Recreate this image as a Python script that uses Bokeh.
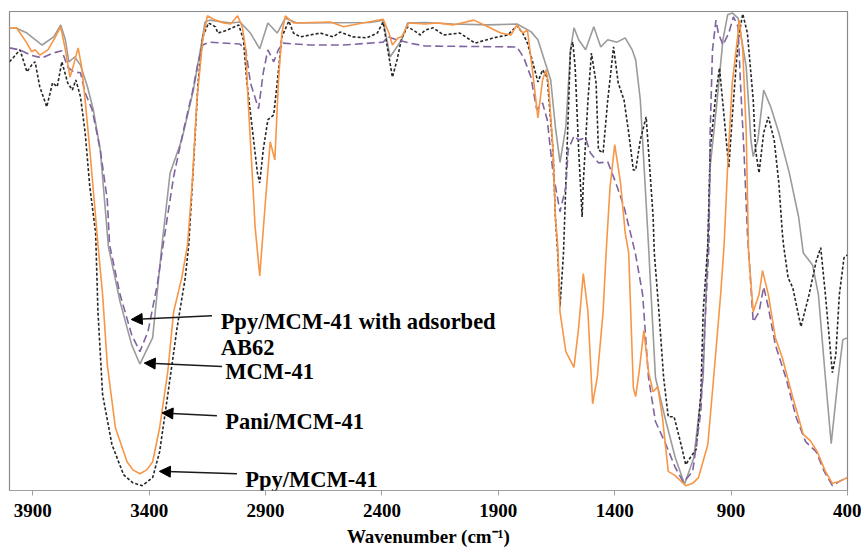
from bokeh.plotting import figure
from bokeh.models import Range1d, FixedTicker, Arrow, NormalHead, Label
from bokeh.embed import file_html
from bokeh.resources import INLINE

# ---------------- data (wavenumber cm-1, transmittance a.u.) ----------------
tick_values = [3900, 3400, 2900, 2400, 1900, 1400, 900, 400]

wn_mcm = [4000, 3970, 3925, 3860, 3810, 3780, 3760, 3745, 3720, 3695, 3665, 3640, 3610, 3575, 3525,
          3475, 3440, 3385, 3345, 3310, 3260, 3210, 3180, 3160, 3140, 3050, 3010, 2965, 2925, 2890,
          2850, 2815, 2765, 2450, 2395, 2365, 2315, 2290, 2215, 2095, 1945, 1820, 1760, 1730, 1705,
          1675, 1655, 1635, 1610, 1590, 1575, 1555, 1525, 1490, 1460, 1430, 1390, 1355, 1325, 1310,
          1290, 1255, 1225, 1180, 1140, 1100, 1060, 1020, 1000, 990, 960, 935, 915, 895, 870, 835,
          815, 805, 785, 760, 730, 695, 650, 610, 590, 550, 525, 495, 470, 440, 420, 400]
t_mcm = [96.5, 96.5, 95.5, 93.0, 94.7, 97.2, 94.1, 89.5, 90.5, 88.8, 84.3, 79.5, 71.1, 50.9, 39.4,
         30.4, 26.4, 31.9, 51.3, 66.3, 73.2, 83.6, 92.0, 97.8, 98.2, 97.6, 97.8, 95.5, 92.2, 97.6,
         95.5, 98.6, 97.6, 97.7, 98.2, 90.5, 94.1, 97.6, 97.7, 97.4, 97.2, 97.4, 95.8, 94.1, 90.3,
         85.7, 75.9, 68.5, 75.9, 92.0, 96.6, 94.1, 92.0, 96.8, 92.6, 94.1, 93.6, 94.5, 92.0, 89.9,
         81.5, 51.3, 23.6, 14.4, 6.9, 1.3, 6.9, 23.6, 51.3, 67.6, 81.5, 94.1, 99.3, 99.7, 98.6, 88.4,
         73.2, 69.7, 73.2, 83.6, 80.1, 74.7, 66.3, 57.1, 49.6, 47.1, 40.9, 23.6, 9.8, 23.6, 31.5, 31.9]

wn_pani = [4000, 3970, 3925, 3905, 3890, 3870, 3835, 3805, 3780, 3760,
           3740, 3725, 3705, 3690, 3675, 3655, 3630, 3620, 3600, 3580,
           3545, 3495, 3470, 3440, 3410, 3385, 3355, 3320, 3295, 3260, 3235, 3215,
           3195, 3170, 3150, 3115, 3080, 3050, 3020, 3000, 2985, 2975,
           2955, 2945, 2925, 2900, 2880, 2860, 2845, 2830, 2815, 2780,
           2620, 2565, 2505, 2395, 2370, 2355, 2330, 2315, 2285, 2215,
           2160, 2095, 2005, 1945, 1890, 1845, 1820, 1795, 1775, 1755,
           1730, 1710, 1695, 1685, 1665, 1655, 1645, 1635, 1610, 1575,
           1555, 1535, 1515, 1495, 1475, 1450, 1435, 1420, 1400, 1375,
           1355, 1340, 1320, 1310, 1295, 1275, 1255, 1235, 1215, 1195,
           1170, 1140, 1095, 1065, 1040, 1000, 975, 945, 930, 915, 895, 870,
           865, 850, 835, 825, 805, 780, 765, 740, 710, 680,
           635, 590, 560, 530, 495, 465, 435, 400]
t_pani = [96.5, 96.6, 93.4, 91.6, 92.0, 90.9, 92.0, 94.5, 96.8, 92.0,
          86.3, 88.8, 92.4, 88.4, 81.5, 71.1, 57.1, 51.3, 40.9, 26.3,
          13.1, 6.0, 4.3, 3.5, 4.3, 6.0, 13.1, 24.8, 37.3, 44.4, 51.3, 64.2,
          81.5, 94.1, 99.1, 98.2, 97.6, 97.4, 99.1, 96.8, 92.0, 81.5,
          64.2, 55.1, 44.8, 60.7, 72.8, 69.0, 85.1, 95.5, 99.1, 97.6,
          97.8, 96.8, 97.4, 98.4, 95.5, 93.0, 94.5, 94.7, 97.6, 97.4,
          97.6, 97.2, 98.2, 96.8, 95.5, 95.1, 97.2, 95.5, 96.1, 88.4,
          77.8, 85.7, 87.8, 85.1, 71.1, 57.1, 51.3, 37.3, 29.0, 25.7,
          34.0, 45.3, 37.3, 18.1, 23.6, 37.3, 51.3, 63.4, 72.2, 64.2,
          53.8, 49.6, 21.5, 19.6, 24.8, 33.4, 24.8, 20.6, 21.7, 15.2,
          4.0, 3.1, 1.0, 1.5, 2.7, 9.6, 23.6, 40.9, 51.3, 67.6, 85.1, 95.5,
          98.2, 92.0, 74.7, 49.6, 37.3, 40.9, 45.9, 40.9, 31.9, 27.7,
          19.4, 11.7, 10.4, 8.1, 4.0, 1.5, 1.9, 2.7]

wn_ab62 = [4000, 3955, 3910, 3860, 3815, 3775, 3750, 3725, 3695, 3675,
           3645, 3610, 3580, 3570, 3525, 3475, 3440, 3405, 3365, 3340,
           3295, 3255, 3215, 3190, 3170, 3140, 3010, 2985, 2965, 2930,
           2910, 2890, 2865, 2845, 2825, 2710, 2565, 2395, 2375, 2335,
           2280, 2215, 1820, 1790, 1760, 1735, 1710, 1690, 1665, 1635,
           1610, 1600, 1575, 1555, 1525, 1505, 1470, 1430, 1395, 1360,
           1325, 1310, 1280, 1255, 1225, 1180, 1140, 1105, 1065, 1030,
           1010, 995, 990, 980, 965, 955, 935, 910, 890, 870,
           860, 845, 830, 805, 780, 760, 740, 710, 665, 620,
           580, 535, 500, 465, 435, 400]
t_ab62 = [92.4, 92.0, 90.9, 90.3, 91.3, 91.8, 88.4, 87.4, 87.2, 83.0,
          79.5, 71.1, 60.7, 51.3, 40.9, 32.5, 29.0, 33.2, 43.0, 51.3,
          65.5, 74.7, 83.0, 89.3, 93.0, 93.6, 93.2, 92.0, 85.1, 79.7,
          87.2, 92.0, 89.5, 92.0, 93.4, 93.0, 93.0, 93.6, 94.7, 94.1,
          93.4, 92.8, 92.6, 90.3, 86.3, 79.5, 80.9, 77.4, 66.3, 58.2,
          63.4, 71.1, 74.0, 73.2, 73.6, 70.5, 68.4, 68.6, 64.2, 59.2,
          52.3, 49.2, 40.9, 23.6, 14.4, 9.6, 4.8, 1.7, 4.0, 16.5,
          37.3, 51.3, 74.7, 92.0, 98.2, 95.5, 93.0, 95.5, 98.9, 96.8,
          85.1, 71.1, 53.8, 35.2, 37.3, 42.5, 38.2, 30.4, 23.6, 15.2,
          10.2, 8.1, 4.0, 1.0, 1.9, 2.7]

wn_ppy = [4000, 3985, 3955, 3925, 3905, 3890, 3870, 3840, 3815, 3795,
          3775, 3750, 3730, 3715, 3695, 3675, 3655, 3630, 3620, 3600,
          3560, 3510, 3470, 3430, 3385, 3355, 3320, 3280, 3245, 3230, 3210,
          3190, 3170, 3145, 3115, 3105, 3065, 3015, 2995, 2980, 2955,
          2935, 2925, 2910, 2890, 2865, 2850, 2830, 2800, 2780, 2750,
          2665, 2610, 2580, 2525, 2465, 2420, 2395, 2375, 2355, 2335,
          2315, 2290, 2265, 2235, 2215, 2180, 2135, 2065, 2000, 1920,
          1860, 1820, 1795, 1775, 1755, 1730, 1710, 1690, 1665, 1655,
          1645, 1635, 1620, 1605, 1590, 1580, 1570, 1555, 1540, 1535,
          1515, 1500, 1480, 1470, 1450, 1430, 1405, 1385, 1360, 1340,
          1320, 1310, 1290, 1265, 1255, 1235, 1230, 1210, 1190, 1170,
          1145, 1115, 1095, 1075, 1050, 1030, 1020, 1000, 990, 965,
          950, 930, 910, 895, 870, 850, 830, 805, 795, 780,
          760, 740, 715, 695, 680, 675, 655, 635, 600, 565,
          535, 515, 495, 465, 450, 435, 415, 400]
t_ppy = [89.5, 90.3, 92.0, 87.4, 88.8, 89.5, 84.3, 80.1, 85.1, 84.3,
         89.5, 85.1, 83.6, 85.7, 82.2, 74.7, 63.4, 53.8, 37.3, 20.0,
         9.6, 3.3, 1.6, 1.0, 2.7, 8.1, 20.0, 34.0, 44.4, 51.3, 67.6,
         85.1, 94.7, 97.6, 96.8, 95.5, 96.1, 97.2, 94.1, 85.1, 74.7,
         66.3, 64.2, 71.1, 77.4, 78.4, 85.1, 94.7, 98.0, 95.5, 94.7,
         95.5, 94.7, 95.7, 94.7, 94.5, 95.5, 97.8, 92.0, 86.3, 89.9,
         94.5, 96.8, 96.1, 95.1, 96.1, 96.6, 95.1, 95.5, 93.4, 94.5,
         95.1, 97.0, 95.5, 93.4, 89.9, 85.3, 87.8, 86.3, 71.1, 57.1,
         49.6, 38.4, 49.6, 71.1, 92.0, 93.6, 88.4, 71.1, 57.1, 64.2,
         81.5, 91.3, 85.1, 71.1, 70.5, 81.5, 92.6, 85.1, 81.5, 74.7,
         66.9, 66.9, 73.2, 78.0, 71.1, 57.1, 49.6, 37.3, 23.6, 15.4,
         15.4, 9.6, 5.4, 6.9, 8.6, 20.0, 37.3, 51.3, 71.1, 83.0,
         88.2, 78.0, 67.4, 78.0, 94.1, 99.5, 95.5, 81.5, 71.1, 66.3,
         74.7, 78.0, 73.2, 64.2, 53.8, 51.3, 44.4, 42.3, 34.2, 40.9,
         47.8, 50.7, 40.9, 24.6, 28.4, 40.9, 48.6, 49.2]

# annotation texts and anchors (wavenumber, transmittance)
label_texts = ["Ppy/MCM-41 with adsorbed", "AB62", "MCM-41", "Pani/MCM-41", "Ppy/MCM-41"]
label_x = [3093, 3093, 3073, 3073, 2987]
label_y = [35.3, 29.9, 24.9, 14.5, 2.3]
arrow_x0 = [3130, 3087, 3109, 3023]
arrow_y0 = [36.5, 25.9, 15.6, 3.5]
arrow_x1 = [3477, 3421, 3345, 3356]
arrow_y1 = [35.7, 26.6, 16.2, 4.0]

# ---------------- figure ----------------
p = figure(width=861, height=549, output_backend="svg", toolbar_location=None,
           x_range=Range1d(4000, 400), y_range=Range1d(0, 100),
           y_axis_location=None,
           min_border_left=9, min_border_right=14, min_border_top=11, min_border_bottom=58)
p.xgrid.visible = False
p.ygrid.visible = False
p.outline_line_color = "#8a8a8a"
p.outline_line_width = 1.2
p.background_fill_color = "white"
p.border_fill_color = "white"

ax = p.xaxis[0]
ax.ticker = FixedTicker(ticks=tick_values)
ax.minor_tick_line_color = None
ax.major_tick_in = 0
ax.major_tick_out = 5
ax.major_tick_line_color = "#a0a0a0"
ax.axis_line_color = "#a0a0a0"
ax.major_label_text_font = "Liberation Serif"
ax.major_label_text_font_style = "bold"
ax.major_label_text_font_size = "19px"
ax.major_label_text_color = "black"
ax.major_label_standoff = 8
ax.axis_label = "Wavenumber (cm\u207b\u00b9)"
ax.axis_label_text_font = "Liberation Serif"
ax.axis_label_text_font_style = "bold"
ax.axis_label_text_font_size = "19px"
ax.axis_label_text_color = "black"
ax.axis_label_standoff = 6

p.line(wn_mcm, t_mcm, line_color="#9b9b9b", line_width=1.6)
p.line(wn_ppy, t_ppy, line_color="#262626", line_width=1.6, line_dash="3 2")
p.line(wn_ab62, t_ab62, line_color="#8064a2", line_width=1.6, line_dash="8 4")
p.line(wn_pani, t_pani, line_color="#f79646", line_width=1.6)

for x0, y0, x1, y1 in zip(arrow_x0, arrow_y0, arrow_x1, arrow_y1):
    p.add_layout(Arrow(end=NormalHead(size=11, line_color="black", fill_color="black"),
                       x_start=x0, y_start=y0, x_end=x1, y_end=y1,
                       line_color="#1a1a1a", line_width=1.5))

for txt, lx, ly in zip(label_texts, label_x, label_y):
    p.add_layout(Label(x=lx, y=ly, text=txt, text_font="Liberation Serif",
                       text_font_style="bold", text_font_size="22.5px",
                       text_color="black", text_baseline="alphabetic", text_align="left"))

open("out.html", "w").write(file_html(p, INLINE))
